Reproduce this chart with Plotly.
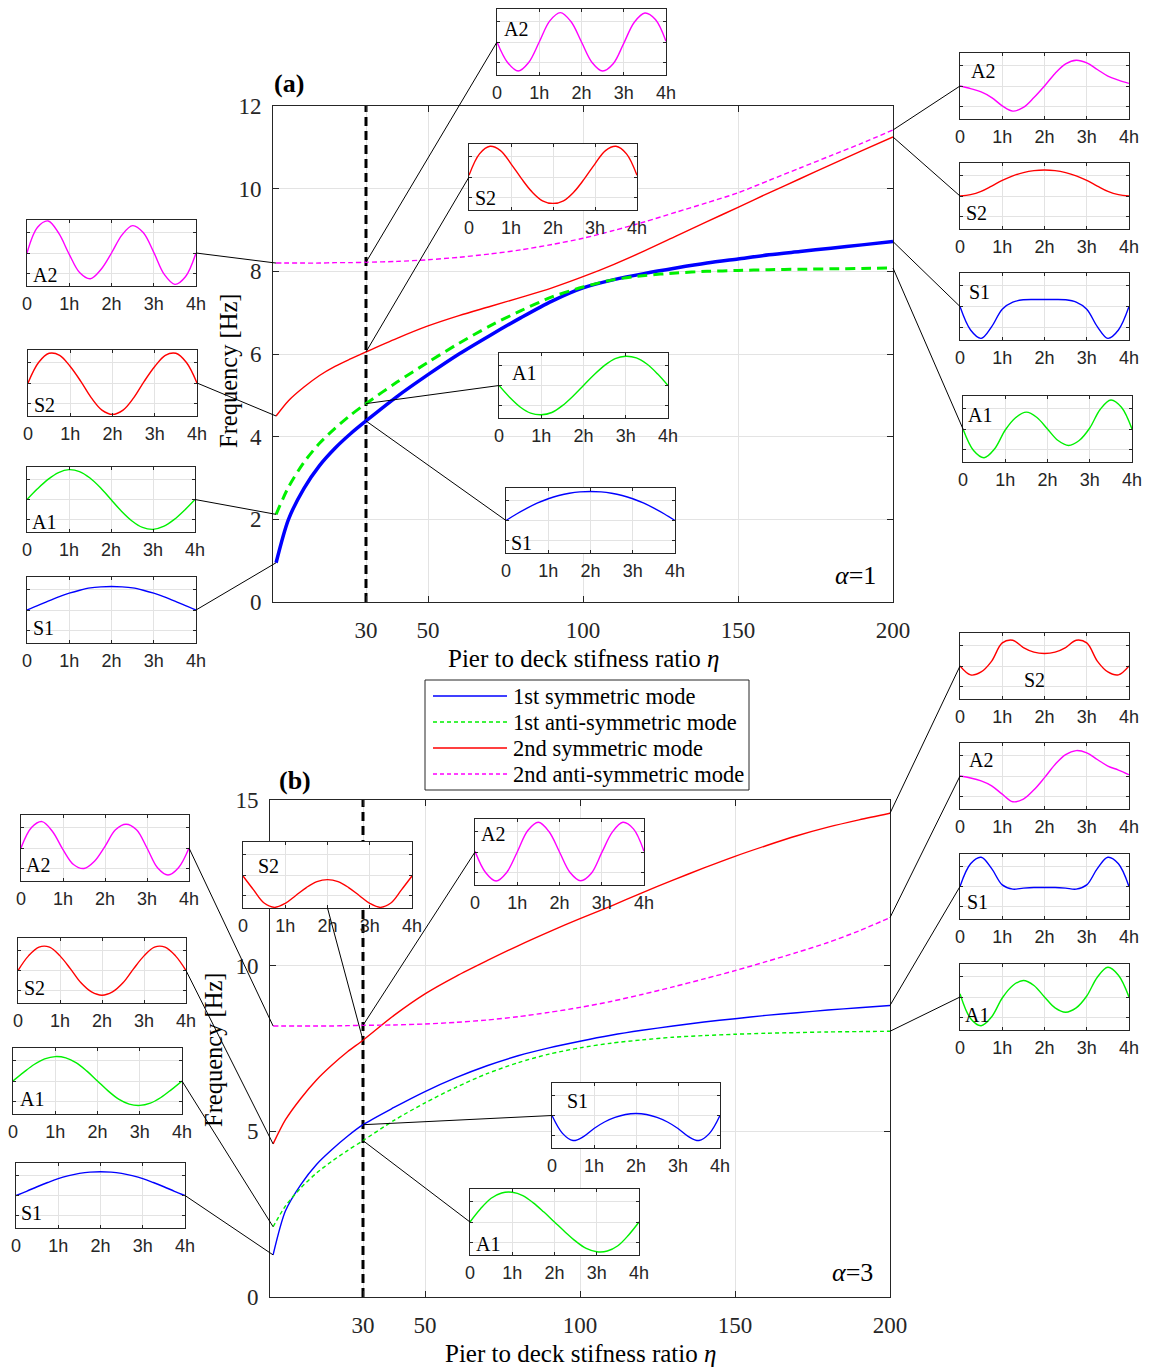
import plotly.graph_objects as go

W, H = 1151, 1369
SERIF = "Liberation Serif"
SANS = "Liberation Sans"
INK = "#262626"
GRID = "#e3e3e3"

# ---------------------------------------------------------------- data
# pier-to-deck stiffness ratio samples
ETA = [1, 5, 10, 15, 20, 25, 30, 40, 50, 60, 70, 80, 90, 100,
       110, 120, 130, 140, 150, 160, 170, 180, 190, 200]
ETA_REF = 30

# (a) alpha = 1 : natural frequencies [Hz]
a_s1 = [0.95, 2.0, 2.75, 3.3, 3.72, 4.07, 4.38, 4.97, 5.5, 6.0, 6.45, 6.88, 7.28, 7.6,
        7.8, 7.95, 8.08, 8.2, 8.3, 8.4, 8.48, 8.56, 8.64, 8.72]
a_a1 = [2.12, 2.78, 3.38, 3.84, 4.2, 4.52, 4.8, 5.32, 5.8, 6.26, 6.68, 7.05, 7.38, 7.62,
        7.8, 7.9, 7.96, 8.0, 8.02, 8.04, 8.05, 8.06, 8.07, 8.08]
a_s2 = [4.5, 4.87, 5.2, 5.48, 5.7, 5.88, 6.05, 6.38, 6.68, 6.93, 7.15, 7.37, 7.6, 7.87,
        8.17, 8.5, 8.85, 9.2, 9.55, 9.9, 10.24, 10.58, 10.92, 11.25]
a_a2 = [8.2, 8.2, 8.2, 8.2, 8.21, 8.21, 8.22, 8.24, 8.28, 8.34, 8.42, 8.52, 8.65, 8.8,
        8.99, 9.2, 9.43, 9.66, 9.9, 10.2, 10.5, 10.8, 11.1, 11.42]

# (b) alpha = 3 : natural frequencies [Hz]
b_s1 = [1.27, 2.6, 3.4, 4.0, 4.45, 4.85, 5.2, 5.72, 6.2, 6.62, 6.98, 7.28, 7.52, 7.72,
        7.9, 8.05, 8.18, 8.3, 8.4, 8.5, 8.58, 8.66, 8.73, 8.8]
b_a1 = [2.12, 2.75, 3.3, 3.74, 4.1, 4.42, 4.72, 5.33, 5.86, 6.33, 6.74, 7.07, 7.33, 7.52,
        7.66, 7.76, 7.84, 7.89, 7.93, 7.96, 7.98, 8.0, 8.01, 8.02]
b_s2 = [4.62, 5.35, 6.0, 6.55, 7.0, 7.4, 7.75, 8.5, 9.15, 9.68, 10.15, 10.6, 11.02, 11.42,
        11.8, 12.2, 12.58, 12.95, 13.3, 13.62, 13.92, 14.18, 14.4, 14.6]
b_a2 = [8.18, 8.18, 8.18, 8.18, 8.18, 8.19, 8.2, 8.21, 8.24, 8.29, 8.36, 8.46, 8.59, 8.74,
        8.92, 9.13, 9.36, 9.6, 9.85, 10.12, 10.4, 10.7, 11.05, 11.45]

X_TICKS = [30, 50, 100, 150, 200]

# mode-shape ordinates along the deck (0 .. 4h), normalised to the inset frame
XS = [0, 0.25, 0.5, 0.75, 1, 1.25, 1.5, 1.75, 2, 2.25, 2.5, 2.75, 3, 3.25, 3.5, 3.75, 4]
H_TICKS = ["0", "1h", "2h", "3h", "4h"]

a_left_A2 = [0, 0.78, 0.97, 0.6, -0.04, -0.6, -0.78, -0.5, 0.0, 0.55, 0.83, 0.62, 0.02, -0.65, -0.95, -0.72, 0.0]
a_left_S2 = [0, 0.62, 0.9, 0.84, 0.5, 0.05, -0.45, -0.82, -0.95, -0.82, -0.45, 0.05, 0.5, 0.84, 0.9, 0.62, 0]
a_left_A1 = [0, 0.33, 0.62, 0.83, 0.92, 0.86, 0.66, 0.36, 0, -0.36, -0.66, -0.86, -0.92, -0.83, -0.62, -0.33, 0]
a_left_S1 = [0, 0.13, 0.27, 0.4, 0.51, 0.6, 0.67, 0.7, 0.71, 0.7, 0.67, 0.6, 0.51, 0.4, 0.27, 0.13, 0]
a_top_A2 = [0, -0.62, -0.88, -0.62, 0.0, 0.64, 0.89, 0.62, 0.0, -0.62, -0.88, -0.66, -0.04, 0.6, 0.88, 0.68, 0.02]
a_mid_S2 = [0.05, 0.7, 0.93, 0.8, 0.4, -0.05, -0.45, -0.72, -0.8, -0.72, -0.45, -0.05, 0.4, 0.8, 0.93, 0.7, 0.05]
a_mid_A1 = [0, -0.36, -0.66, -0.85, -0.9, -0.83, -0.62, -0.33, 0, 0.33, 0.62, 0.83, 0.9, 0.85, 0.66, 0.36, 0]
a_mid_S1 = [0, 0.2, 0.38, 0.54, 0.67, 0.77, 0.84, 0.88, 0.89, 0.88, 0.84, 0.77, 0.67, 0.54, 0.38, 0.2, 0]
a_right_A2 = [0, -0.08, -0.18, -0.35, -0.6, -0.76, -0.65, -0.35, 0.0, 0.38, 0.67, 0.78, 0.7, 0.5, 0.3, 0.18, 0.08]
a_right_S2 = [0, 0.04, 0.14, 0.3, 0.47, 0.61, 0.71, 0.77, 0.79, 0.77, 0.71, 0.61, 0.47, 0.3, 0.14, 0.04, 0]
a_right_S1 = [0, -0.7, -0.95, -0.6, -0.08, 0.13, 0.2, 0.21, 0.21, 0.21, 0.2, 0.13, -0.08, -0.6, -0.95, -0.7, 0]
a_right_A1 = [0, -0.65, -0.87, -0.6, -0.03, 0.35, 0.51, 0.35, 0.0, -0.35, -0.5, -0.35, 0.03, 0.6, 0.88, 0.66, 0.0]

b_left_A2 = [0, 0.62, 0.8, 0.5, -0.05, -0.5, -0.62, -0.4, 0.05, 0.55, 0.72, 0.55, 0.0, -0.6, -0.82, -0.6, 0.0]
b_left_S2 = [0, 0.45, 0.72, 0.72, 0.45, 0.05, -0.38, -0.66, -0.76, -0.66, -0.38, 0.05, 0.45, 0.72, 0.72, 0.45, 0]
b_left_A1 = [0, 0.26, 0.5, 0.67, 0.74, 0.7, 0.55, 0.3, 0, -0.3, -0.55, -0.7, -0.74, -0.67, -0.5, -0.26, 0]
b_left_S1 = [0, 0.13, 0.27, 0.4, 0.52, 0.61, 0.68, 0.72, 0.73, 0.72, 0.68, 0.61, 0.52, 0.4, 0.27, 0.13, 0]
b_top_S2 = [-0.03, -0.45, -0.85, -0.98, -0.86, -0.62, -0.38, -0.2, -0.14, -0.2, -0.38, -0.62, -0.86, -0.98, -0.85, -0.45, -0.03]
b_top_A2 = [0.02, -0.62, -0.88, -0.62, 0.0, 0.65, 0.9, 0.62, 0.0, -0.62, -0.87, -0.65, -0.02, 0.6, 0.9, 0.7, 0.02]
b_mid_S1 = [0, -0.55, -0.77, -0.65, -0.4, -0.2, -0.06, 0.03, 0.06, 0.03, -0.06, -0.2, -0.4, -0.65, -0.77, -0.55, 0]
b_mid_A1 = [0, 0.4, 0.72, 0.88, 0.9, 0.8, 0.58, 0.3, 0, -0.3, -0.58, -0.8, -0.9, -0.88, -0.72, -0.4, 0]
b_right_S2 = [0, -0.27, -0.18, 0.15, 0.7, 0.78, 0.56, 0.42, 0.38, 0.42, 0.56, 0.78, 0.7, 0.15, -0.18, -0.27, 0]
b_right_A2 = [0, -0.06, -0.15, -0.3, -0.55, -0.78, -0.7, -0.42, -0.05, 0.35, 0.65, 0.77, 0.7, 0.5, 0.3, 0.18, 0.04]
b_right_S1 = [0, 0.7, 0.9, 0.55, 0.05, -0.08, -0.05, -0.03, -0.03, -0.03, -0.05, -0.08, 0.05, 0.55, 0.9, 0.7, 0]
b_right_A1 = [0.1, -0.65, -0.87, -0.6, -0.03, 0.35, 0.5, 0.35, 0.0, -0.33, -0.46, -0.33, 0.03, 0.6, 0.9, 0.66, 0.0]

MODE_NAMES = {"s1": "1st symmetric mode", "a1": "1st anti-symmetric mode",
              "s2": "2nd symmetric mode", "a2": "2nd anti-symmetric mode"}

# ---------------------------------------------------------------- styles
COLORS = {"s1": "#0000ff", "a1": "#00f000", "s2": "#ff0000", "a2": "#ff00ff"}

PANELS = {
    "a": dict(px=(273, 893), py=(106, 602), xr=(0, 200), yr=(0, 12), dtick=2,
              series=dict(s1=a_s1, a1=a_a1, s2=a_s2, a2=a_a2),
              lines=dict(s1=dict(width=3.5), a1=dict(width=3, dash="10px,6px"),
                         s2=dict(width=1.4), a2=dict(width=1.4, dash="5px,3px"))),
    "b": dict(px=(270, 890), py=(800, 1297), xr=(0, 200), yr=(0, 15), dtick=5,
              series=dict(s1=b_s1, a1=b_a1, s2=b_s2, a2=b_a2),
              lines=dict(s1=dict(width=1.4), a1=dict(width=1.4, dash="4px,3px"),
                         s2=dict(width=1.4), a2=dict(width=1.4, dash="5px,3px"))),
}

# inset frames (pixel box), mode shape, label centre, linked curve point and attach side
INSETS = [
    dict(box=(27, 220, 196, 286), y=a_left_A2, mode="a2", text="A2", lab=(45, 275), link=("a", "a2", 1), side="right"),
    dict(box=(28, 350, 197, 416), y=a_left_S2, mode="s2", text="S2", lab=(44, 405), link=("a", "s2", 1), side="right"),
    dict(box=(27, 467, 195, 532), y=a_left_A1, mode="a1", text="A1", lab=(44, 522), link=("a", "a1", 1), side="right"),
    dict(box=(27, 577, 196, 643), y=a_left_S1, mode="s1", text="S1", lab=(43, 628), link=("a", "s1", 1), side="right"),
    dict(box=(497, 9, 666, 75), y=a_top_A2, mode="a2", text="A2", lab=(516, 29), link=("a", "a2", ETA_REF), side="left"),
    dict(box=(469, 144, 637, 210), y=a_mid_S2, mode="s2", text="S2", lab=(485, 198), link=("a", "s2", ETA_REF), side="left"),
    dict(box=(499, 353, 668, 418), y=a_mid_A1, mode="a1", text="A1", lab=(524, 373), link=("a", "a1", ETA_REF), side="left"),
    dict(box=(506, 488, 675, 553), y=a_mid_S1, mode="s1", text="S1", lab=(521, 543), link=("a", "s1", ETA_REF), side="left"),
    dict(box=(960, 53, 1129, 119), y=a_right_A2, mode="a2", text="A2", lab=(983, 71), link=("a", "a2", 200), side="left"),
    dict(box=(960, 163, 1129, 229), y=a_right_S2, mode="s2", text="S2", lab=(976, 213), link=("a", "s2", 200), side="left"),
    dict(box=(960, 273, 1129, 340), y=a_right_S1, mode="s1", text="S1", lab=(979, 292), link=("a", "s1", 200), side="left"),
    dict(box=(963, 396, 1132, 462), y=a_right_A1, mode="a1", text="A1", lab=(980, 415), link=("a", "a1", 200), side="left"),

    dict(box=(21, 815, 189, 881), y=b_left_A2, mode="a2", text="A2", lab=(38, 865), link=("b", "a2", 1), side="right"),
    dict(box=(18, 938, 186, 1003), y=b_left_S2, mode="s2", text="S2", lab=(34, 988), link=("b", "s2", 1), side="right"),
    dict(box=(13, 1048, 182, 1114), y=b_left_A1, mode="a1", text="A1", lab=(32, 1099), link=("b", "a1", 1), side="right"),
    dict(box=(16, 1163, 185, 1228), y=b_left_S1, mode="s1", text="S1", lab=(32, 1213), link=("b", "s1", 1), side="right"),
    dict(box=(243, 842, 412, 908), y=b_top_S2, mode="s2", text="S2", lab=(268, 866), link=("b", "s2", ETA_REF), side="bottom"),
    dict(box=(475, 819, 644, 885), y=b_top_A2, mode="a2", text="A2", lab=(493, 834), link=("b", "a2", ETA_REF), side="left"),
    dict(box=(552, 1083, 720, 1148), y=b_mid_S1, mode="s1", text="S1", lab=(577, 1101), link=("b", "s1", ETA_REF), side="left"),
    dict(box=(470, 1189, 639, 1255), y=b_mid_A1, mode="a1", text="A1", lab=(488, 1244), link=("b", "a1", ETA_REF), side="left"),
    dict(box=(960, 633, 1129, 699), y=b_right_S2, mode="s2", text="S2", lab=(1034, 680), link=("b", "s2", 200), side="left"),
    dict(box=(960, 743, 1129, 809), y=b_right_A2, mode="a2", text="A2", lab=(981, 760), link=("b", "a2", 200), side="left"),
    dict(box=(960, 854, 1129, 919), y=b_right_S1, mode="s1", text="S1", lab=(977, 902), link=("b", "s1", 200), side="left"),
    dict(box=(960, 964, 1129, 1030), y=b_right_A1, mode="a1", text="A1", lab=(977, 1015), link=("b", "a1", 200), side="left"),
]


def fx(p):
    return p / W


def fy(p):
    return 1 - p / H


def data_to_pixel(panel, x, y):
    (px0, px1), (py0, py1) = panel["px"], panel["py"]
    xr, yr = panel["xr"], panel["yr"]
    xp = px0 + (x - xr[0]) / (xr[1] - xr[0]) * (px1 - px0)
    yp = py1 - (y - yr[0]) / (yr[1] - yr[0]) * (py1 - py0)
    return xp, yp


fig = go.Figure()
layout = {}
shapes = []
annotations = []

# ---------------------------------------------------------------- main panels
for i, key in enumerate(["a", "b"], start=1):
    P = PANELS[key]
    n = "" if i == 1 else str(i)
    layout[f"xaxis{n}"] = dict(
        domain=[fx(P["px"][0]), fx(P["px"][1])], range=list(P["xr"]), anchor=f"y{n}",
        tickvals=X_TICKS, ticks="inside", ticklen=6, tickcolor=INK, mirror="allticks",
        showline=True, linecolor=INK, linewidth=1, showgrid=True, gridcolor=GRID,
        zeroline=False, tickfont=dict(family=SERIF, size=23, color=INK),
        ticklabelstandoff=7, automargin=False, fixedrange=True)
    layout[f"yaxis{n}"] = dict(
        domain=[fy(P["py"][1]), fy(P["py"][0])], range=list(P["yr"]), anchor=f"x{n}",
        dtick=P["dtick"], tick0=0, ticks="inside", ticklen=6, tickcolor=INK, mirror="allticks",
        showline=True, linecolor=INK, linewidth=1, showgrid=True, gridcolor=GRID,
        zeroline=False, tickfont=dict(family=SERIF, size=23, color=INK),
        ticklabelstandoff=6, automargin=False, fixedrange=True)
    # reference stiffness ratio
    fig.add_trace(go.Scatter(x=[ETA_REF, ETA_REF], y=list(P["yr"]), xaxis=f"x{n}", yaxis=f"y{n}",
                             mode="lines", line=dict(color="black", width=3, dash="9px,5px"),
                             hoverinfo="skip", showlegend=False))
    for s in ["s1", "a1", "s2", "a2"]:
        fig.add_trace(go.Scatter(x=ETA, y=P["series"][s], xaxis=f"x{n}", yaxis=f"y{n}",
                                 mode="lines", name=MODE_NAMES[s],
                                 line=dict(color=COLORS[s], shape="spline", smoothing=0.8,
                                           **P["lines"][s]),
                                 showlegend=False))

# ---------------------------------------------------------------- insets
for k, ins in enumerate(INSETS, start=3):
    x0, y0, x1, y1 = ins["box"]
    layout[f"xaxis{k}"] = dict(
        domain=[fx(x0), fx(x1)], range=[0, 4], anchor=f"y{k}",
        tickvals=[0, 1, 2, 3, 4], ticktext=H_TICKS, ticks="inside", ticklen=3,
        tickcolor=INK, mirror="allticks", showline=True, linecolor=INK, linewidth=1,
        showgrid=True, gridcolor=GRID, zeroline=False,
        tickfont=dict(family=SANS, size=18, color=INK), ticklabelstandoff=1,
        automargin=False, fixedrange=True)
    layout[f"yaxis{k}"] = dict(
        domain=[fy(y1), fy(y0)], range=[-1, 1], anchor=f"x{k}",
        tickvals=[-0.62, 0, 0.62], showticklabels=False, ticks="inside", ticklen=3,
        tickcolor=INK, mirror="allticks", showline=True, linecolor=INK, linewidth=1,
        showgrid=True, gridcolor=GRID, zeroline=False, automargin=False, fixedrange=True)
    # opaque frame so the inset hides what lies beneath it
    shapes.append(dict(type="rect", xref=f"x{k}", yref=f"y{k}", x0=0, x1=4, y0=-1, y1=1,
                       fillcolor="white", line=dict(width=0), layer="below"))
    fig.add_trace(go.Scatter(x=XS, y=ins["y"], xaxis=f"x{k}", yaxis=f"y{k}", mode="lines",
                             line=dict(color=COLORS[ins["mode"]], width=1.4, shape="spline",
                                       smoothing=1.0),
                             hoverinfo="skip", showlegend=False))
    annotations.append(dict(x=fx(ins["lab"][0]), y=fy(ins["lab"][1]), xref="paper", yref="paper",
                            text=ins["text"], showarrow=False, xanchor="center", yanchor="middle",
                            font=dict(family=SERIF, size=20, color="black")))

    # leader line from the inset to its point on the frequency curve
    pkey, skey, e = ins["link"]
    P = PANELS[pkey]
    cx, cy = data_to_pixel(P, e, P["series"][skey][ETA.index(e)])
    if ins["side"] == "right":
        ax_, ay_ = x1, (y0 + y1) / 2
    elif ins["side"] == "left":
        ax_, ay_ = x0, (y0 + y1) / 2
    else:
        ax_, ay_ = (x0 + x1) / 2, y1
    shapes.append(dict(type="line", xref="paper", yref="paper",
                       x0=fx(ax_), y0=fy(ay_), x1=fx(cx), y1=fy(cy),
                       line=dict(color="black", width=1), layer="above"))

# ---------------------------------------------------------------- text
def text(x, y, s, size=22, angle=0, bold=False, xanchor="center"):
    annotations.append(dict(x=fx(x), y=fy(y), xref="paper", yref="paper", text=f"<b>{s}</b>" if bold else s,
                            showarrow=False, xanchor=xanchor, yanchor="middle", textangle=angle,
                            font=dict(family=SERIF, size=size, color="black")))


text(289, 84, "(a)", size=26, bold=True)
text(295, 780, "(b)", size=26, bold=True)
text(583, 658, "Pier to deck stifness ratio <i>η</i>", size=25)
text(580, 1353, "Pier to deck stifness ratio <i>η</i>", size=25)
text(228, 371, "Frequency [Hz]", size=24.5, angle=-90)
text(213, 1050, "Frequency [Hz]", size=24.5, angle=-90)
text(855, 575, "<i>α</i>=1", size=26)
text(852, 1272, "<i>α</i>=3", size=26)

# ---------------------------------------------------------------- legend
shapes.append(dict(type="rect", xref="paper", yref="paper", x0=fx(425), x1=fx(749),
                   y0=fy(790), y1=fy(680), fillcolor="white",
                   line=dict(color=INK, width=1), layer="above"))
legend_rows = [("s1", 696, None), ("a1", 722, "4px,3px"), ("s2", 748, None), ("a2", 774, "4px,3px")]
for s, yy, dash in legend_rows:
    ln = dict(color=COLORS[s], width=1.4)
    if dash:
        ln["dash"] = dash
    shapes.append(dict(type="line", xref="paper", yref="paper", x0=fx(433), x1=fx(507),
                       y0=fy(yy), y1=fy(yy), line=ln, layer="above"))
    text(511, yy, MODE_NAMES[s], size=22.5, xanchor="left")

fig.update_layout(
    width=W, height=H, margin=dict(l=0, r=0, t=0, b=0, autoexpand=False),
    paper_bgcolor="white", plot_bgcolor="white", showlegend=False,
    shapes=shapes, annotations=annotations, **layout)

fig.write_html("out.html")
